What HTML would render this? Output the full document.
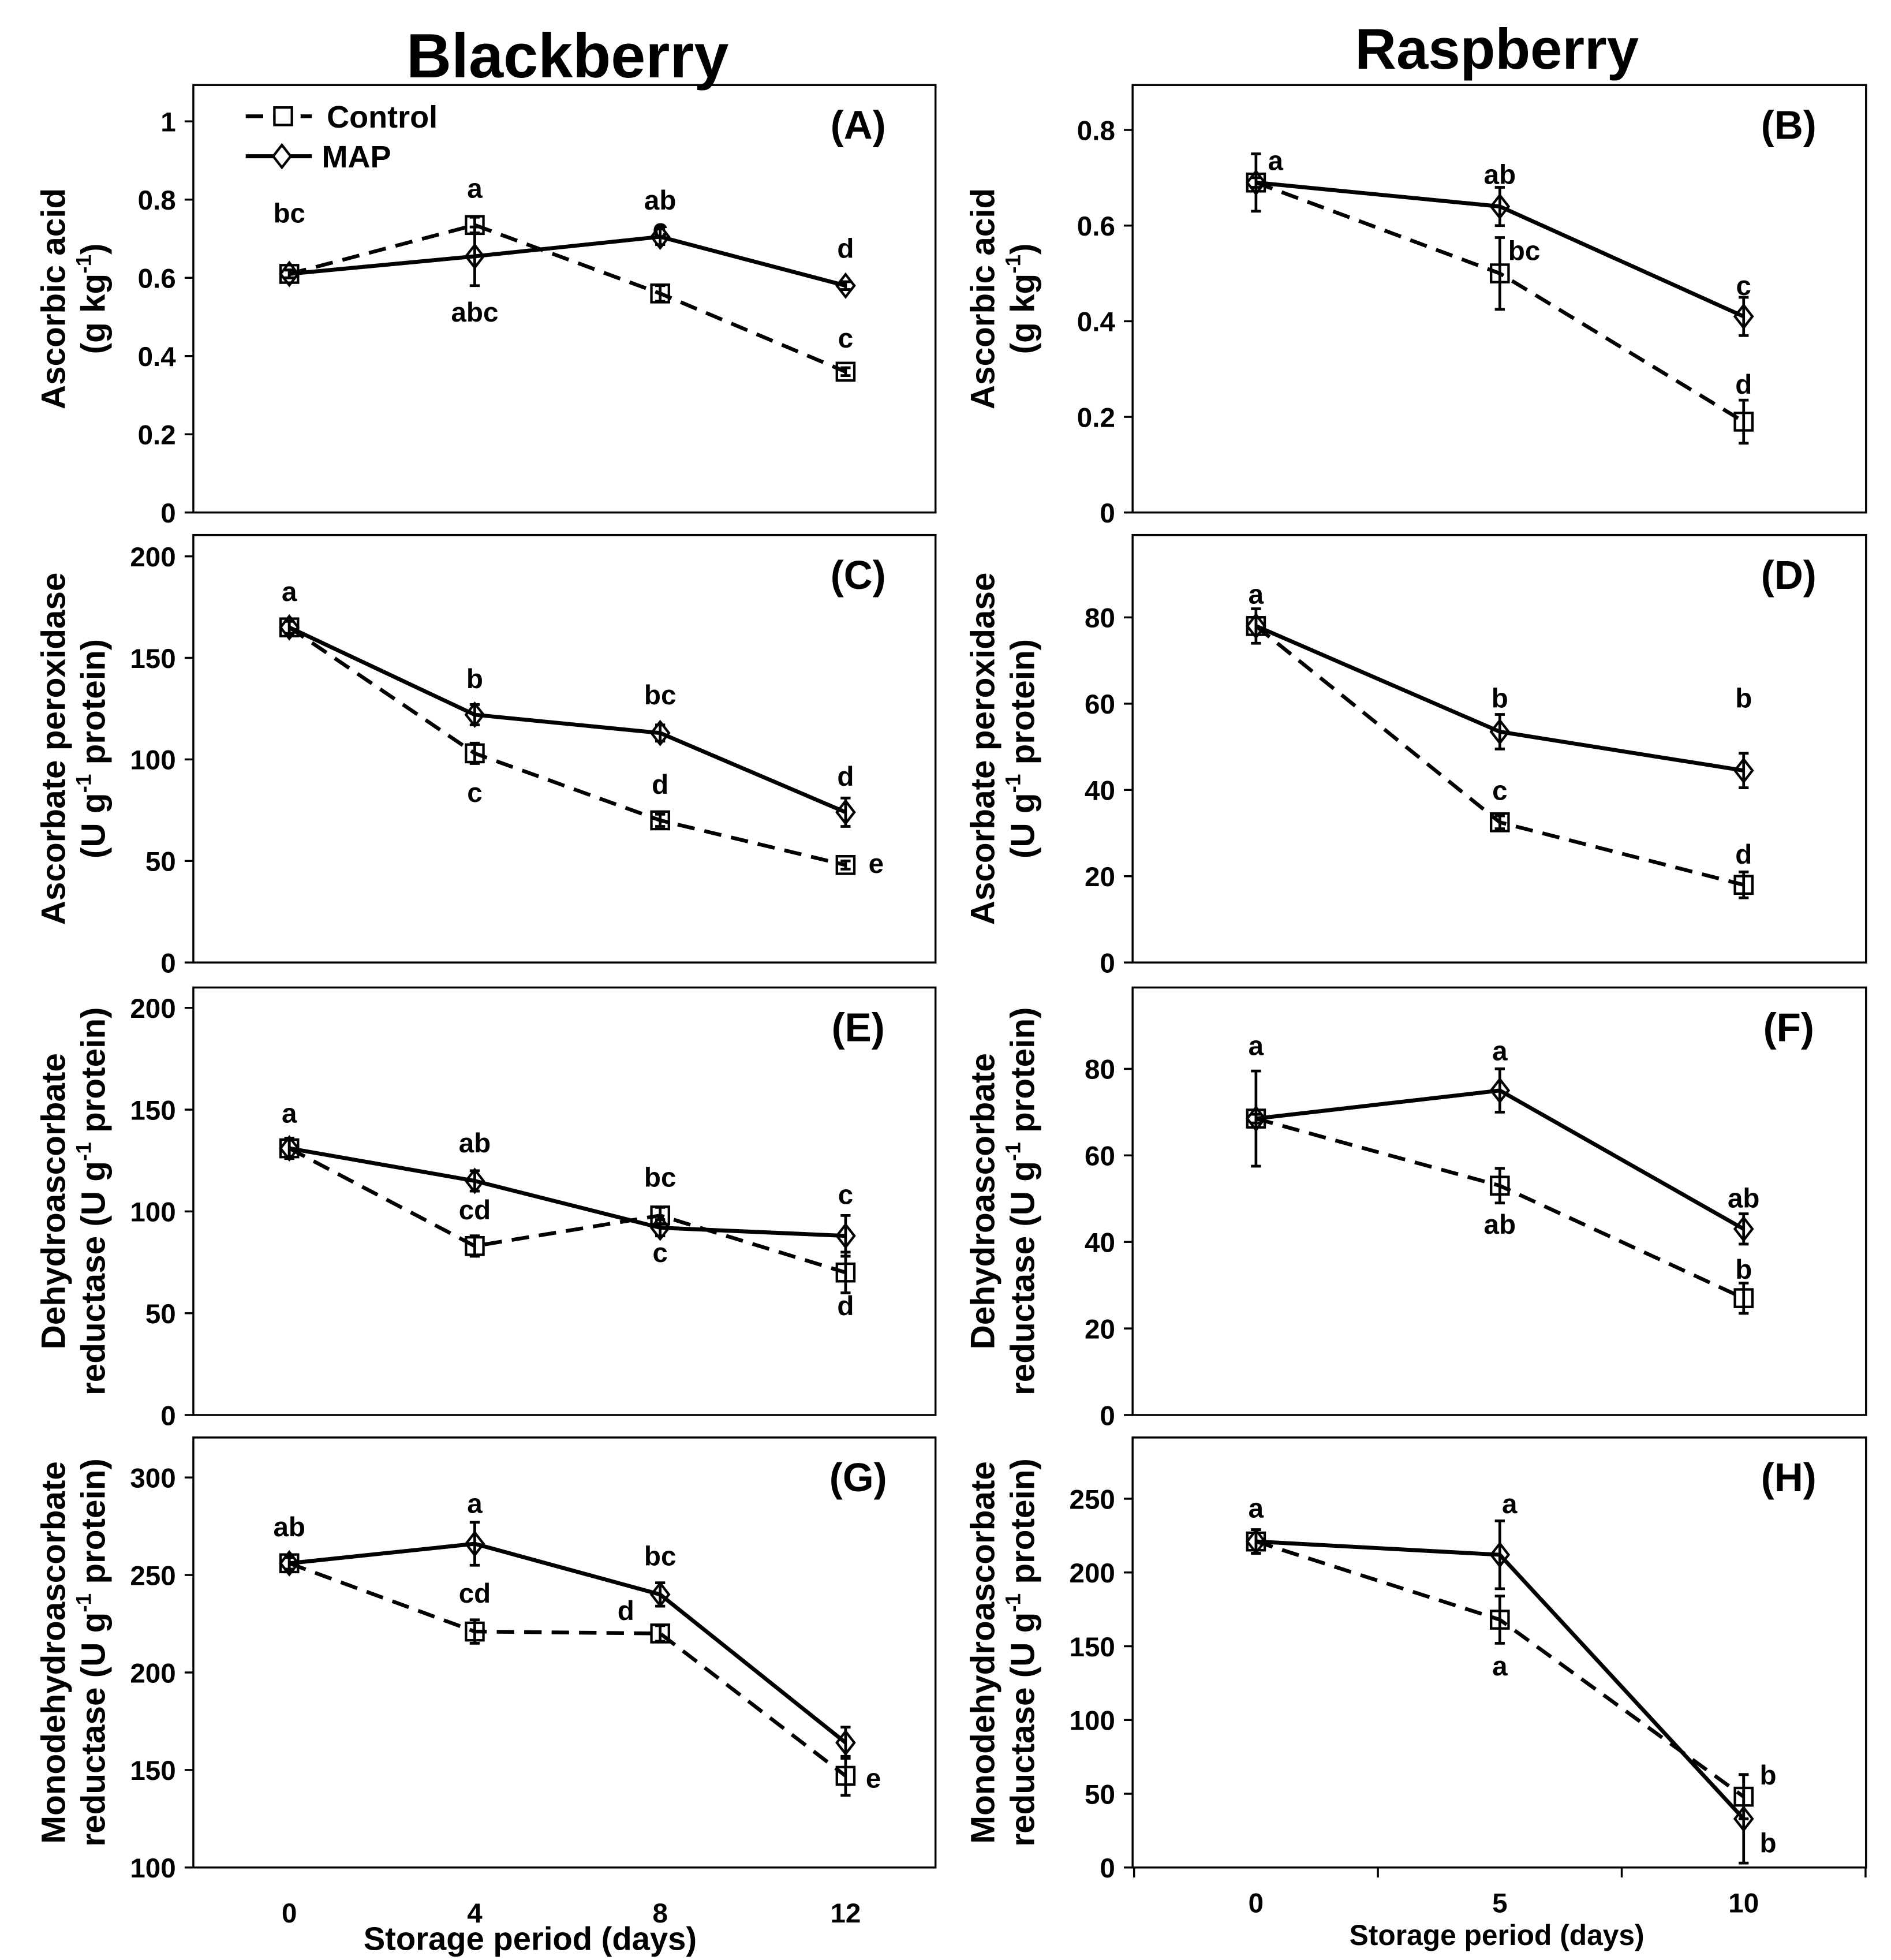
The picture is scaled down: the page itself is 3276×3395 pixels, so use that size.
<!DOCTYPE html>
<html><head><meta charset="utf-8"><style>
html,body{margin:0;padding:0;background:#fff;}
svg{display:block;}
text{font-family:"Liberation Sans",sans-serif;font-weight:bold;fill:#000;}
.tick{font-family:"Liberation Sans Narrow","Liberation Sans",sans-serif;font-size:22px;}
.let{font-family:"Liberation Sans Narrow","Liberation Sans",sans-serif;font-size:22px;}
</style></head><body>
<svg id="fig" width="3276" height="3395" viewBox="0 0 1516 1568" preserveAspectRatio="none" xmlns="http://www.w3.org/2000/svg">
<text x="455" y="62" font-size="50" text-anchor="middle">Blackberry</text>
<text x="1200" y="55" font-size="46" text-anchor="middle">Raspberry</text>
</svg>
<script>
// ---- data ----
const daysBB = [0, 4, 8, 12];
const daysRB = [0, 5, 10];
const A_ctrl = [0.61, 0.735, 0.56, 0.36], A_ctrlErr = [0.01, 0.02, 0.02, 0.01];
const A_map = [0.61, 0.655, 0.705, 0.58], A_mapErr = [0.01, 0.075, 0.02, 0.01];
const B_ctrl = [0.69, 0.50, 0.19], B_ctrlErr = [0.06, 0.075, 0.045];
const B_map = [0.69, 0.64, 0.41], B_mapErr = [0.01, 0.04, 0.04];
const C_ctrl = [165, 103, 70, 48], C_ctrlErr = [3, 5, 3, 2];
const C_map = [165, 122, 113, 74], C_mapErr = [3, 5, 4, 7];
const D_ctrl = [78, 32.5, 18], D_ctrlErr = [4, 1.5, 3];
const D_map = [78, 53.5, 44.5], D_mapErr = [2, 4, 4];
const E_ctrl = [131, 83, 98, 70], E_ctrlErr = [5, 5, 4, 10];
const E_map = [131, 115, 92, 88], E_mapErr = [4, 5, 4, 10];
const F_ctrl = [68.5, 53, 27], F_ctrlErr = [11, 4, 3.5];
const F_map = [68.5, 75, 43], F_mapErr = [1, 5, 3.5];
const G_ctrl = [256, 221, 220, 147], G_ctrlErr = [4, 6, 4, 10];
const G_map = [256, 266, 240, 164], G_mapErr = [3, 11, 6, 8];
const H_ctrl = [221, 168, 48], H_ctrlErr = [8, 16, 15];
const H_map = [221, 212, 33], H_mapErr = [8, 23, 30];
const ticksA = [0, 0.2, 0.4, 0.6, 0.8, 1], tickLblA = ["0","0.2","0.4","0.6","0.8","1"];
const ticksB = [0, 0.2, 0.4, 0.6, 0.8], tickLblB = ["0","0.2","0.4","0.6","0.8"];
const ticksC = [0, 50, 100, 150, 200];
const ticksD = [0, 20, 40, 60, 80];
const ticksG = [100, 150, 200, 250, 300];
const ticksH = [0, 50, 100, 150, 200, 250];
const xTicksBB = [0, 4, 8, 12];
const xTicksRB = [0, 5, 10];
// letters: [day, value, text]
const A_lets = [[0,0.767,"bc"],[4,0.83,"a"],[4,0.514,"abc"],[8,0.80,"ab"],[8,0.728,"c"],[12,0.677,"d"],[12,0.447,"c"]];
const B_lets = [[0.4,0.737,"a"],[5,0.708,"ab"],[5.5,0.549,"bc"],[10,0.476,"c"],[10,0.269,"d"]];
const C_lets = [[0,183,"a"],[4,140,"b"],[4,84,"c"],[8,132,"bc"],[8,88,"d"],[12,92,"d"],[12.66,49,"e"]];
const D_lets = [[0,85.5,"a"],[5,61.4,"b"],[5,40,"c"],[10,61.4,"b"],[10,25.2,"d"]];
const E_lets = [[0,148.5,"a"],[4,134,"ab"],[4,101,"cd"],[8,117,"bc"],[8,80,"c"],[12,108.6,"c"],[12,54,"d"]];
const F_lets = [[0,85.5,"a"],[5,84.3,"a"],[5,44.2,"ab"],[10,50.3,"ab"],[10,33.8,"b"]];
const G_lets = [[0,275,"ab"],[4,287,"a"],[4,241,"cd"],[8,260,"bc"],[7.26,232,"d"],[12.6,146,"e"]];
const H_lets = [[0,244,"a"],[5.2,247,"a"],[5,137,"a"],[10.5,63,"b"],[10.5,17,"b"]];

const NS = "http://www.w3.org/2000/svg";
const svg = document.getElementById("fig");
function mk(tag, attrs, parent, txt) {
  const e = document.createElementNS(NS, tag);
  for (const k in attrs) e.setAttribute(k, attrs[k]);
  if (txt !== undefined) e.textContent = txt;
  (parent || svg).appendChild(e);
  return e;
}

function panel(o) {
  const g = mk("g", {});
  
  
  const sx = v => o.L + (v - o.xmin) / (o.xmax - o.xmin) * (o.R - o.L);
  const sy = v => o.B - (v - o.ymin) / (o.ymax - o.ymin) * (o.B - o.T);
  const frame = mk("rect", {x:o.L, y:o.T, width:o.R-o.L, height:o.B-o.T, fill:"none", stroke:"#000", "stroke-width":1.6}, g);
  
  
  o.yt.forEach((t, i) => {
    mk("line", {x1:o.L-7, x2:o.L, y1:sy(t), y2:sy(t), stroke:"#000", "stroke-width":1.6}, g);
    const lb = mk("text", {x:o.L-14, y:sy(t)+8, "text-anchor":"end", class:"tick"}, g, o.ytl ? o.ytl[i] : String(t));
    
    
  });
  if (o.xt) {
    o.xtm.forEach(t => mk("line", {x1:sx(t), x2:sx(t), y1:o.B, y2:o.B+8, stroke:"#000", "stroke-width":1.6}, g));
    o.xt.forEach(t => {
      const lb = mk("text", {x:sx(t), y:o.xly, "text-anchor":"middle", class:"tick", "font-size":o.xfs}, g, String(t));
      
      
    });
  }
  const series = [[o.ctrl, o.ctrlErr, true], [o.map, o.mapErr, false]];
  series.forEach(([vals, errs, isCtrl]) => {
    const pts = vals.map((v, i) => sx(o.x[i]) + "," + sy(v)).join(" ");
    const pl = mk("polyline", {points:pts, fill:"none", stroke:"#000", "stroke-width": isCtrl ? 3 : 3.2, "stroke-dasharray": isCtrl ? "14,8" : "none"}, g);
    
    
    vals.forEach((v, i) => {
      const cx = sx(o.x[i]), cy = sy(v), e = errs[i];
      const eb = mk("path", {d:`M${cx},${sy(v+e)}V${sy(v-e)}M${cx-4},${sy(v+e)}H${cx+4}M${cx-4},${sy(v-e)}H${cx+4}`, stroke:"#000", "stroke-width":2.2, fill:"none"}, g);
      
      
      let m;
      if (isCtrl) m = mk("rect", {x:cx-7, y:cy-7, width:14, height:14, fill:"none", stroke:"#000", "stroke-width":2}, g);
      else m = mk("path", {d:`M${cx},${cy-9}L${cx+7},${cy}L${cx},${cy+9}L${cx-7},${cy}Z`, fill:"none", stroke:"#000", "stroke-width":2}, g);
      
      
    });
  });
  o.lets.forEach(([d, v, t]) => {
    const lt = mk("text", {x:sx(d), y:sy(v)+8, "text-anchor":"middle", class:"let"}, g, t);
    
    
  });
  const pl = mk("text", {x:o.R-62, y:o.T+43, "text-anchor":"middle", "font-size":32}, g, "(" + o.id + ")");
  
  
  const cyT = (o.T + o.B) / 2;
  o.ytitle.forEach((line, i) => {
    const tx = o.ytx + i * 32;
    const t = mk("text", {x:tx, y:cyT, "text-anchor":"middle", "font-size":27, transform:`rotate(-90 ${tx} ${cyT})`}, g);
    
    
    line.forEach(([s, sup]) => {
      const sp = mk("tspan", sup ? {"font-size":17, dy:-11} : {dy: 0}, t, s);
      if (sup) sp.dataset.sup = "1";
    });
    const spans = t.querySelectorAll("tspan");
    spans.forEach((sp, k) => { if (k > 0 && spans[k-1].dataset.sup) sp.setAttribute("dy", 11); });
  });
}

const LB = {L:155, R:750, xmin:-2.07, xmax:13.94, x:daysBB, ytx:52};
const RB = {L:908, R:1496, xmin:-2.53, xmax:12.51, x:daysRB, ytx:797};
const sup = s => [s, true];
const AA = [[["Ascorbic acid"]], [["(g kg"], sup("-1"), [")"]]];
const AP = [[["Ascorbate peroxidase"]], [["(U g"], sup("-1"), [" protein)"]]];
const DR = [[["Dehydroascorbate"]], [["reductase (U g"], sup("-1"), [" protein)"]]];
const MR = [[["Monodehydroascorbate"]], [["reductase (U g"], sup("-1"), [" protein)"]]];

panel(Object.assign({}, LB, {id:"A", T:68, B:410, ymin:0, ymax:1.093, yt:ticksA, ytl:tickLblA, ctrl:A_ctrl, ctrlErr:A_ctrlErr, map:A_map, mapErr:A_mapErr, lets:A_lets, ytitle:AA}));
panel(Object.assign({}, RB, {id:"B", T:68, B:410, ymin:0, ymax:0.894, yt:ticksB, ytl:tickLblB, ctrl:B_ctrl, ctrlErr:B_ctrlErr, map:B_map, mapErr:B_mapErr, lets:B_lets, ytitle:AA}));
panel(Object.assign({}, LB, {id:"C", T:428, B:770, ymin:0, ymax:210.5, yt:ticksC, ctrl:C_ctrl, ctrlErr:C_ctrlErr, map:C_map, mapErr:C_mapErr, lets:C_lets, ytitle:AP}));
panel(Object.assign({}, RB, {id:"D", T:428, B:770, ymin:0, ymax:99.1, yt:ticksD, ctrl:D_ctrl, ctrlErr:D_ctrlErr, map:D_map, mapErr:D_mapErr, lets:D_lets, ytitle:AP}));
panel(Object.assign({}, LB, {id:"E", T:790, B:1132, ymin:0, ymax:210, yt:ticksC, ctrl:E_ctrl, ctrlErr:E_ctrlErr, map:E_map, mapErr:E_mapErr, lets:E_lets, ytitle:DR}));
panel(Object.assign({}, RB, {id:"F", T:790, B:1132, ymin:0, ymax:98.8, yt:ticksD, ctrl:F_ctrl, ctrlErr:F_ctrlErr, map:F_map, mapErr:F_mapErr, lets:F_lets, ytitle:DR}));
panel(Object.assign({}, LB, {id:"G", T:1150, B:1494, ymin:100, ymax:320.5, yt:ticksG, ctrl:G_ctrl, ctrlErr:G_ctrlErr, map:G_map, mapErr:G_mapErr, lets:G_lets, ytitle:MR, xt:xTicksBB, xtm:[], xly:1538, xfs:22}));
panel(Object.assign({}, RB, {id:"H", T:1150, B:1494, ymin:0, ymax:291.5, yt:ticksH, ctrl:H_ctrl, ctrlErr:H_ctrlErr, map:H_map, mapErr:H_mapErr, lets:H_lets, ytitle:MR, xt:xTicksRB, xtm:[-2.5, 2.5, 7.5, 12.5], xly:1530, xfs:19}));

let xt1 = mk("text", {x:425, y:1560, "text-anchor":"middle", "font-size":26}, svg, "Storage period (days)");


let xt2 = mk("text", {x:1200, y:1556, "text-anchor":"middle", "font-size":23}, svg, "Storage period (days)");



const lg = mk("g", {});


const l1 = mk("g", {}, lg);


mk("line", {x1:197, x2:250, y1:93, y2:93, stroke:"#000", "stroke-width":3, "stroke-dasharray":"14,8"}, l1);
mk("rect", {x:220, y:86, width:14, height:14, fill:"#fff", stroke:"#000", "stroke-width":2}, l1);
mk("text", {x:262, y:102, "font-size":25}, l1, "Control");
const l2 = mk("g", {}, lg);


mk("line", {x1:197, x2:250, y1:125, y2:125, stroke:"#000", "stroke-width":3.2}, l2);
mk("path", {d:"M226,116L233,125L226,134L219,125Z", fill:"#fff", stroke:"#000", "stroke-width":2}, l2);
mk("text", {x:258, y:134, "font-size":25}, l2, "MAP");
</script>
</body></html>
